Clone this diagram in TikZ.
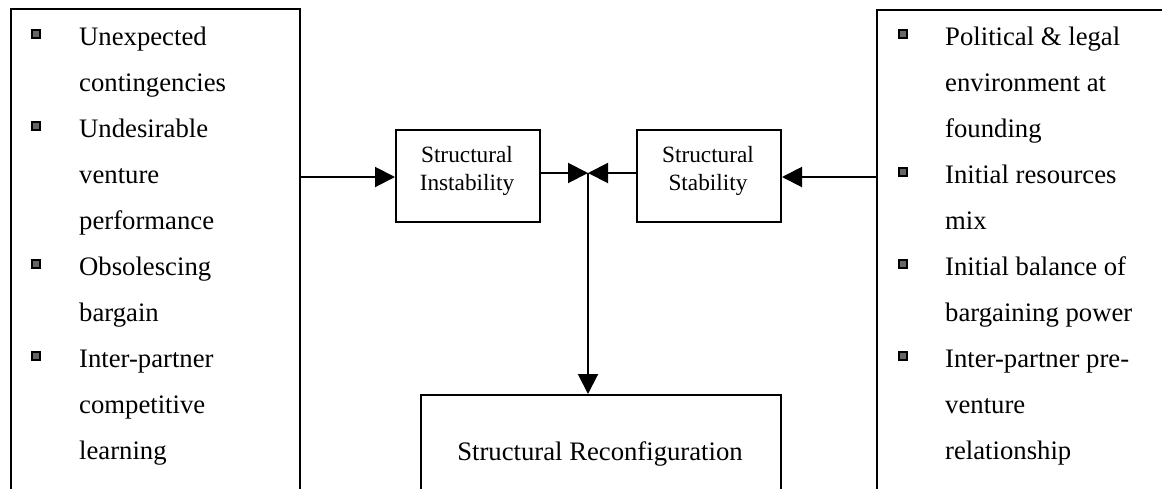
\documentclass[tikz,border=0pt]{standalone}
\usepackage{fontspec}
\setmainfont{Liberation Serif}
\usetikzlibrary{arrows.meta}
\begin{document}
\begin{tikzpicture}[x=1pt,y=-1pt,
  frame/.style={draw, line width=2pt, inner sep=0pt, anchor=north west},
  arr/.style={line width=2pt, -{Triangle[length=20pt,width=20pt]}},
  bul/.style={draw, fill=black!60, line width=1.8pt, minimum size=8pt, inner sep=0pt},
  txt/.style={anchor=base west, inner sep=0pt, font=\fontsize{26.7}{32}\selectfont},
  small/.style={anchor=base, inner sep=0pt, font=\fontsize{23.3}{28}\selectfont},
  big/.style={anchor=base, inner sep=0pt, font=\fontsize{26.7}{32}\selectfont}]
\useasboundingbox (0,0) rectangle (1162,488);
\clip (0,0) rectangle (1162,488);
% boxes
\node[frame, minimum width=289pt, minimum height=520pt] (L) at (10,8) {};
\node[frame, minimum width=320pt, minimum height=520pt] (Rt) at (876,9) {};
\node[frame, minimum width=144pt, minimum height=92pt] (I) at (395,129) {};
\node[frame, minimum width=144pt, minimum height=92pt] (S) at (636,129) {};
\node[frame, minimum width=360pt, minimum height=120pt] (R) at (420,394) {};
% box texts
\node[small] (I1) at (467,162) {Structural};
\node[small] (I2) at (467,190) {Instability};
\node[small] (S1) at (708,162) {Structural};
\node[small] (S2) at (708,190) {Stability};
\node[big] (R1) at (600,460) {Structural Reconfiguration};
% left list
\foreach \t [count=\i from 0] in {Unexpected,contingencies,Undesirable,venture,performance,Obsolescing,bargain,Inter-partner,competitive,learning}
  \node[txt] (la\i) at (79,{45+46*\i}) {\t};
\foreach \k in {0,2,5,7}
  \node[bul] (lb\k) at (36,{34+46*\k}) {};
% right list
\foreach \t [count=\i from 0] in {Political \& legal,environment at,founding,Initial resources,mix,Initial balance of,bargaining power,Inter-partner pre-,venture,relationship}
  \node[txt] (ra\i) at (945,{45+46*\i}) {\t};
\foreach \k in {0,3,5,7}
  \node[bul] (rb\k) at (903,{34+46*\k}) {};
% connectors
\coordinate (J) at (588,173);
\draw[arr] (L.east |- 0,177) -- (I.west |- 0,177);
\draw[arr] (I.east |- J) -- (J);
\draw[arr] (S.west |- J) -- (J);
\draw[arr] (Rt.west |- 0,177) -- (S.east |- 0,177);
\draw[arr] (J) -- (J |- R.north);
\end{tikzpicture}
\end{document}
